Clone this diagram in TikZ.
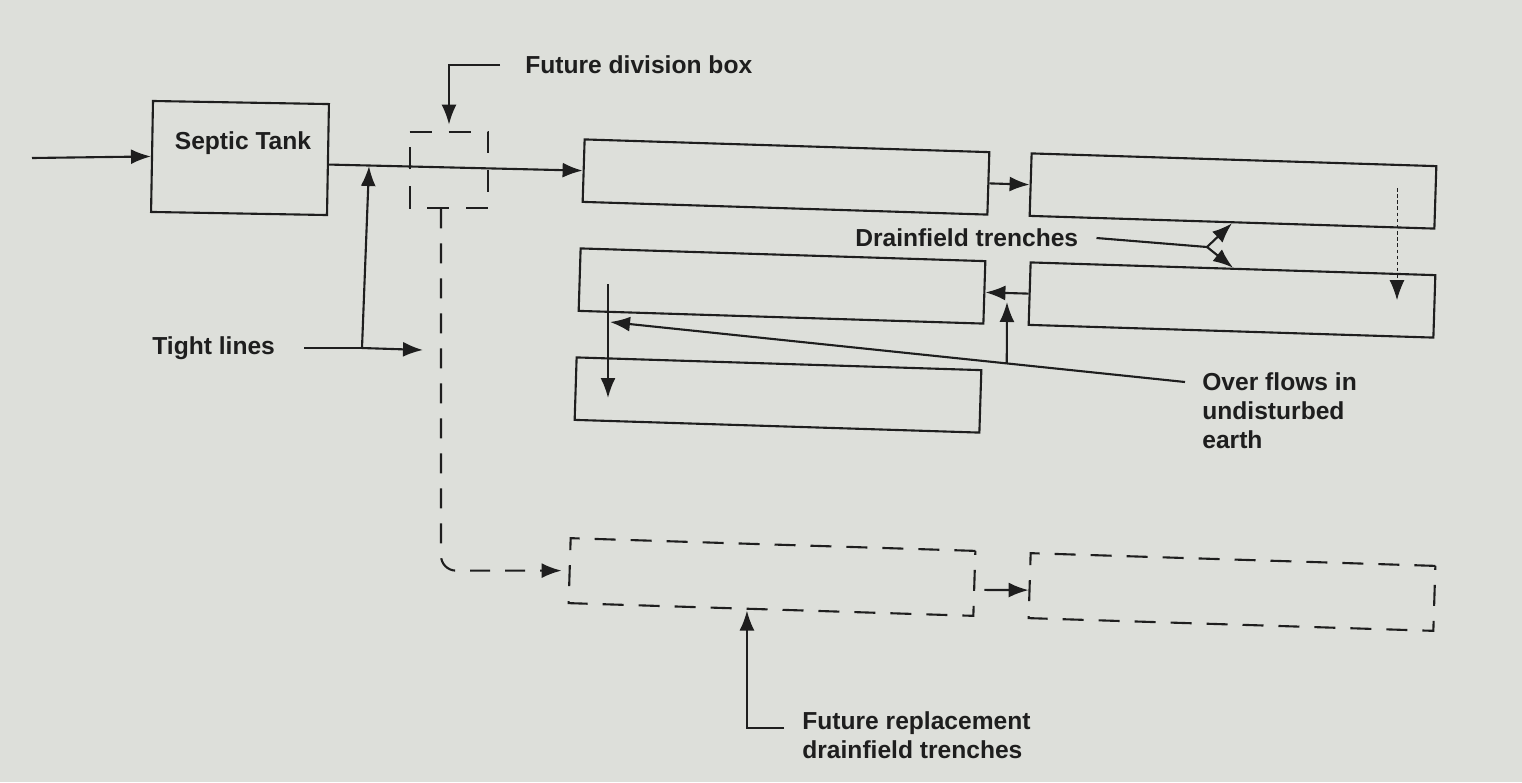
\documentclass[tikz,border=0pt]{standalone}
\usepackage{fontspec}
\setmainfont{Liberation Sans}
\usepackage{xcolor}
\usepackage{tikz}
\usetikzlibrary{arrows.meta, calc}
\definecolor{paper}{RGB}{221,223,218}
\definecolor{ink}{RGB}{30,30,30}
\tikzset{
	tankbox/.style={draw=ink, line width=1.2pt, rectangle, inner sep=0pt, minimum width=3.52cm, minimum height=2.22cm, rotate=-1},
	trench/.style={draw=ink, line width=1.2pt, rectangle, inner sep=0pt, minimum width=8.1cm, minimum height=1.25cm, rotate=-1.8},
	futtrench/.style={trench, minimum height=1.3cm, dash pattern=on 0.42cm off 0.3cm},
	divbox/.style={rectangle, inner sep=0pt, minimum width=1.56cm, minimum height=1.52cm},
	divline/.style={draw=ink, line width=1.2pt, dash pattern=on 0.44cm off 0.34cm},
	lbl/.style={text=ink, font=\bfseries\fontsize{14}{16.5}\selectfont, inner sep=0pt, align=left},
	pipe/.style={draw=ink, line width=1.2pt},
	flow/.style={pipe, -{Latex[length=0.4cm, width=0.3cm]}},
	futflow/.style={flow, dash pattern=on 0.4cm off 0.3cm, rounded corners=0.3cm},
	seep/.style={draw=ink, line width=0.5pt, dash pattern=on 2pt off 1.5pt, -{Latex[length=0.4cm, width=0.3cm]}},
}

\begin{document}
\begin{tikzpicture}[x=0.02cm, y=-0.02cm]
	\fill[paper] (0,0) rectangle (1522,782);
	\useasboundingbox (0,0) rectangle (1522,782);

	\node[tankbox] (tank) at (240,158) {};
	\node[lbl] (tanklbl) at (243,143) {Septic Tank};

	\node[trench] (t1) at (786,177) {};
	\node[trench] (t2) at (1233,191) {};
	\node[trench] (t3) at (782,286) {};
	\node[trench] (t4) at (1232,300) {};
	\node[trench] (t5) at (778,395) {};

	\node[futtrench] (f1) at (772,577) {};
	\node[futtrench] (f2) at (1232,592) {};
	\node[divbox] (dbox) at (449,170) {};
	\draw[divline] (dbox.north west) -- (dbox.north east) -- (dbox.south east) -- (dbox.south west) -- cycle;

	\node[lbl, anchor=west] (divlbl) at (525,65) {Future division box};
	\node[lbl, anchor=west] (draintag) at (855,238) {Drainfield trenches};
	\node[lbl, anchor=west] (tightlbl) at (152,348) {Tight lines};
	\node[lbl, anchor=north west] (overlbl) at (1202,372) {Over flows in\\undisturbed\\earth};
	\node[lbl, anchor=north west] (replbl) at (802,711) {Future replacement\\drainfield trenches};

	\coordinate (inlet) at (32,158);
	\coordinate (tjoin) at (362,348);
	\coordinate (ttop) at (369,166);
	\coordinate (tend) at (423,350);
	\coordinate (fork) at (1207,247);
	\coordinate (seeptop) at (1397,188);
	\coordinate (seepbot) at (1397,300);
	\coordinate (ovstart) at ([xshift=-0.34cm, yshift=-0.2cm]overlbl.north west);
	\coordinate (ovtip) at (610,322);
	\coordinate (ovfoot) at ($(ovstart)!0.31!(ovtip)$);
	\coordinate (ovtop) at (1007,302);
	\coordinate (dropA) at (608,284);
	\coordinate (dropB) at (608,398);

	\draw[flow] (inlet) -- (tank.west);
	\draw[flow] ([yshift=-0.1cm]tank.east) -- (t1.west);
	\draw[pipe] ([xshift=0.58cm]tightlbl.east) -- (tjoin);
	\draw[flow] (tjoin) -- (tend);
	\draw[flow] (tjoin) -- (ttop);
	\draw[flow] ([xshift=-0.5cm]divlbl.west) -| ([yshift=0.14cm]dbox.north);
	\draw[futflow, shorten >=0.14cm] ([xshift=-0.16cm]dbox.south) |- (f1.west);

	\draw[flow] (t1.east) -- (t2.west);
	\draw[seep] (seeptop) -- (seepbot);
	\draw[flow] (t4.west) -- (t3.east);
	\draw[flow] (ovstart) -- (ovtip);
	\draw[flow] (ovfoot) -- (ovtop);
	\draw[flow] (dropA) -- (dropB);
	\draw[pipe] ([xshift=0.36cm]draintag.east) -- (fork);
	\draw[flow] (fork) -- (t2.south);
	\draw[flow] (fork) -- (t4.north);

	\draw[flow] ([xshift=-0.36cm, yshift=-0.34cm]replbl.north west) -| ([xshift=-0.48cm]f1.south);
	\draw[flow, shorten <=0.18cm] ([yshift=-0.13cm]f1.east) -- ([yshift=-0.09cm]f2.west);
\end{tikzpicture}
\end{document}
